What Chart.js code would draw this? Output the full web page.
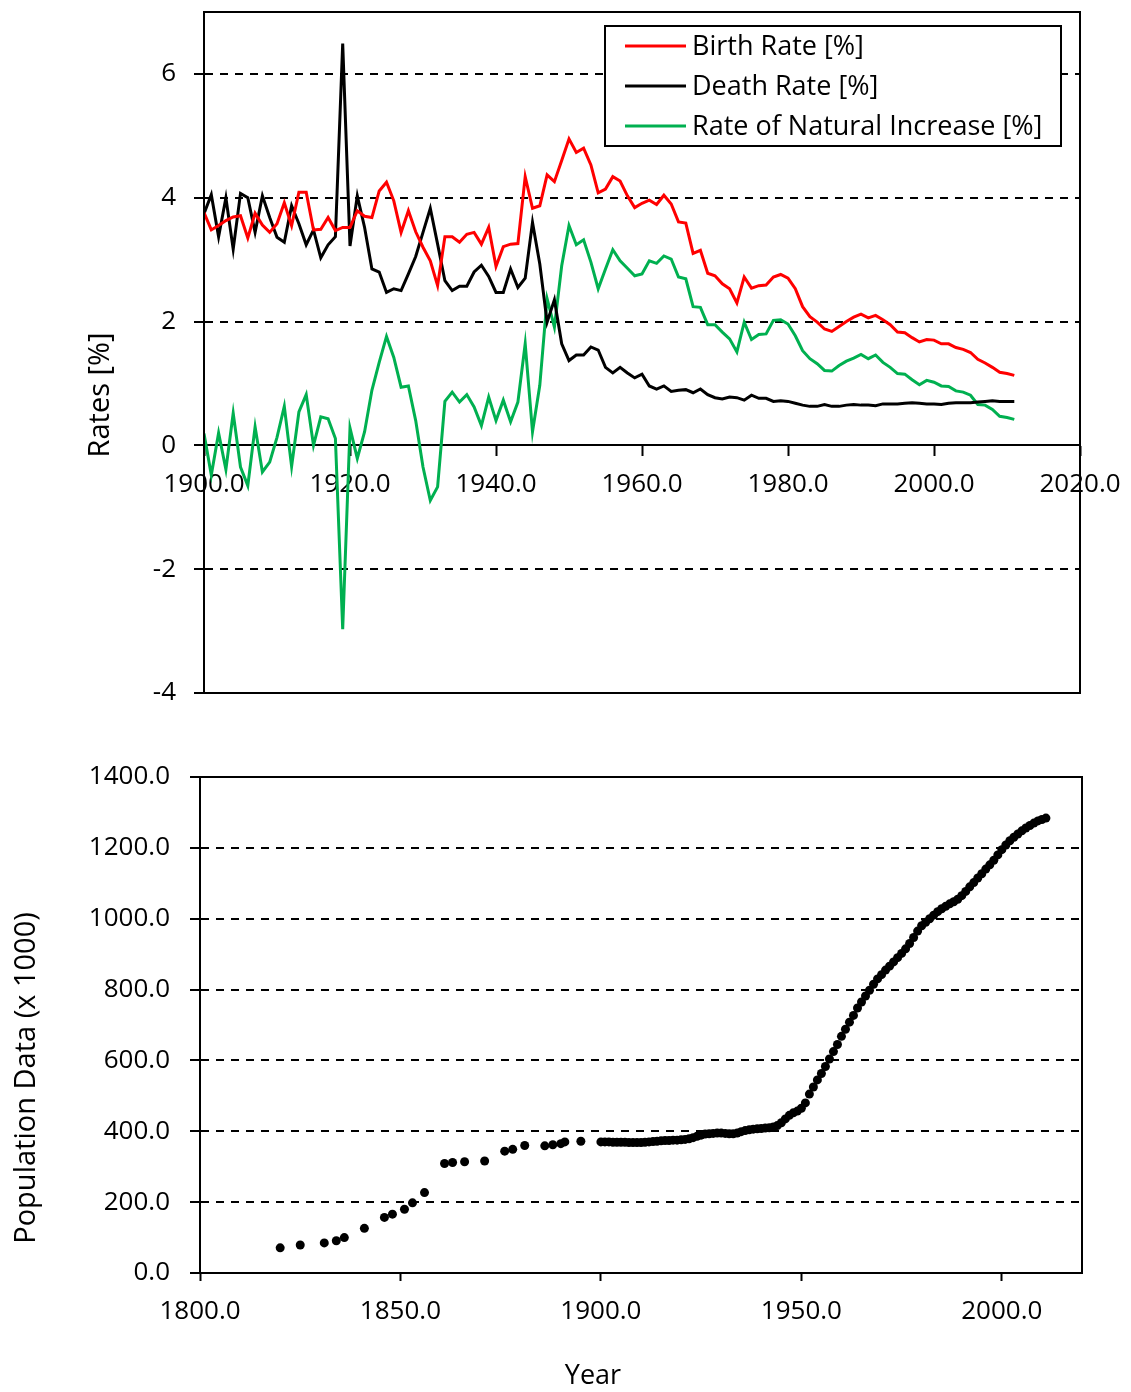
<!DOCTYPE html>
<html><head><meta charset="utf-8">
<script src="https://cdn.jsdelivr.net/npm/chart.js@4.4.1/dist/chart.umd.min.js"></script>
<style>
html,body{margin:0;padding:0;background:#fff;}
#wrap{position:relative;width:1131px;height:1392px;background:#fff;}
#c1{position:absolute;left:0;top:0;}
#c2{position:absolute;left:0;top:740px;}
</style></head><body>
<div id="wrap"><canvas id="c1" width="1131" height="720"></canvas><canvas id="c2" width="1131" height="652"></canvas></div>
<script>
// ---- data ----
const years = [1900,1901,1902,1903,1904,1905,1906,1907,1908,1909,1910,1911,1912,1913,1914,1915,1916,1917,1918,1919,
1920,1921,1922,1923,1924,1925,1926,1927,1928,1929,1930,1931,1932,1933,1934,1935,1936,1937,1938,1939,
1940,1941,1942,1943,1944,1945,1946,1947,1948,1949,1950,1951,1952,1953,1954,1955,1956,1957,1958,1959,
1960,1961,1962,1963,1964,1965,1966,1967,1968,1969,1970,1971,1972,1973,1974,1975,1976,1977,1978,1979,
1980,1981,1982,1983,1984,1985,1986,1987,1988,1989,1990,1991,1992,1993,1994,1995,1996,1997,1998,1999,
2000,2001,2002,2003,2004,2005,2006,2007,2008,2009,2010,2011];

const birthRate = [3.76,3.48,3.55,3.63,3.69,3.71,3.35,3.75,3.56,3.44,3.58,3.92,3.55,4.09,4.09,3.48,3.49,3.68,3.47,3.52,
3.52,3.79,3.70,3.68,4.11,4.25,3.95,3.44,3.79,3.45,3.20,2.98,2.58,3.37,3.37,3.28,3.41,3.44,3.25,3.52,
2.89,3.21,3.25,3.26,4.34,3.83,3.87,4.37,4.26,4.60,4.95,4.73,4.80,4.53,4.08,4.14,4.34,4.27,4.03,3.84,
3.91,3.96,3.89,4.04,3.90,3.61,3.59,3.10,3.15,2.78,2.74,2.61,2.53,2.30,2.72,2.54,2.58,2.59,2.72,2.76,
2.70,2.53,2.24,2.08,1.99,1.88,1.84,1.92,2.00,2.07,2.12,2.06,2.10,2.03,1.95,1.83,1.82,1.74,1.67,1.71,
1.70,1.64,1.64,1.58,1.55,1.50,1.39,1.33,1.26,1.18,1.16,1.13];

const deathRate = [3.74,4.05,3.37,4.00,3.17,4.07,4.00,3.44,4.03,3.68,3.36,3.28,3.87,3.58,3.24,3.48,3.03,3.24,3.37,6.49,
3.22,4.03,3.52,2.85,2.80,2.47,2.53,2.50,2.77,3.05,3.44,3.83,3.25,2.66,2.50,2.57,2.57,2.80,2.91,2.73,
2.47,2.47,2.85,2.55,2.70,3.60,2.93,1.99,2.35,1.64,1.37,1.46,1.46,1.59,1.54,1.26,1.17,1.26,1.17,1.09,
1.15,0.96,0.91,0.96,0.87,0.89,0.90,0.85,0.91,0.82,0.77,0.75,0.78,0.77,0.73,0.81,0.76,0.76,0.71,0.72,
0.71,0.68,0.65,0.63,0.63,0.66,0.63,0.63,0.65,0.66,0.65,0.65,0.64,0.67,0.67,0.67,0.68,0.69,0.68,0.67,
0.67,0.66,0.68,0.69,0.69,0.69,0.70,0.71,0.72,0.71,0.71,0.71];

const naturalIncrease = [0.19,-0.48,0.20,-0.39,0.52,-0.35,-0.65,0.30,-0.43,-0.27,0.13,0.63,-0.34,0.54,0.82,0.00,0.46,0.43,0.11,-2.97,
0.28,-0.21,0.22,0.89,1.34,1.76,1.42,0.94,0.96,0.40,-0.35,-0.89,-0.67,0.71,0.86,0.70,0.82,0.62,0.32,0.78,
0.40,0.73,0.38,0.70,1.64,0.22,0.97,2.37,1.91,2.90,3.55,3.24,3.32,2.96,2.53,2.85,3.16,2.98,2.86,2.74,
2.77,2.98,2.94,3.06,3.01,2.72,2.69,2.24,2.23,1.95,1.95,1.83,1.72,1.51,1.99,1.71,1.79,1.80,2.02,2.03,
1.96,1.77,1.53,1.40,1.32,1.21,1.20,1.29,1.36,1.41,1.47,1.40,1.46,1.34,1.26,1.16,1.15,1.06,0.98,1.05,
1.02,0.96,0.95,0.88,0.86,0.81,0.66,0.65,0.58,0.47,0.45,0.42];

const popYearsEarly = [1820,1825,1831,1834,1836,1841,1846,1848,1851,1853,1856,1861,1863,1866,1871,1876,1878,1881,1886,1888,1890,1891,1895];
const popEarly = [71,79,85,91,100,126,157,166,180,198,227,309,312,314,316,344,349,360,359,362,365,370,372];

const popAnnual = [370,370,370,369,369,369,369,368,368,368,368,369,370,371,372,373,374,374,375,375,
376,377,379,382,386,389,392,393,394,395,395,394,393,393,395,399,402,404,406,407,
408,409,410,412,416,424,435,445,452,457,465,480,505,525,545,563,583,604,625,645,
668,688,708,727,748,765,782,798,815,830,842,855,866,878,890,902,915,930,947,965,
980,990,1000,1010,1020,1028,1035,1042,1048,1055,1065,1077,1090,1102,1115,1127,1140,1152,1165,1180,
1195,1208,1220,1230,1239,1248,1256,1263,1270,1276,1280,1284];

const xTicksTop = [1900,1920,1940,1960,1980,2000,2020];
const yTicksTop = [-4,-2,0,2,4,6];
const xTicksBottom = [1800,1850,1900,1950,2000];
const yTicksBottom = [0,200,400,600,800,1000,1200,1400];

// ---- styling ----
const FONT = "'Open Sans', sans-serif";
Chart.defaults.font.family = FONT;
Chart.defaults.color = '#000';

const boxPlugin = {
  id: 'plotBox',
  afterDraw(chart) {
    const {ctx, chartArea: a} = chart;
    ctx.save();
    ctx.strokeStyle = '#000';
    ctx.lineWidth = 2;
    ctx.strokeRect(a.left, a.top, a.right - a.left, a.bottom - a.top);
    ctx.restore();
  }
};

// axis titles, placed as in the reference (not centred on the plot area)
const axisTitlePlugin = {
  id: 'axisTitles',
  afterDraw(chart, args, opts) {
    const ctx = chart.ctx;
    ctx.save();
    ctx.fillStyle = '#000';
    ctx.textAlign = 'center';
    ctx.textBaseline = 'middle';
    (opts.items || []).forEach(it => {
      ctx.save();
      ctx.font = it.size + 'px ' + FONT;
      ctx.translate(it.x, it.y);
      if (it.rotate) ctx.rotate(-Math.PI / 2);
      ctx.fillText(it.text, 0, 0);
      ctx.restore();
    });
    ctx.restore();
  }
};

const legendPlugin = {
  id: 'boxLegend',
  afterDatasetsDraw(chart) {
    const {ctx, chartArea: a} = chart;
    const w = 456, h = 120;
    const x = a.right - 19 - w, y = a.top + 14;
    ctx.save();
    ctx.fillStyle = '#fff';
    ctx.fillRect(x, y, w, h);
    ctx.strokeStyle = '#000';
    ctx.lineWidth = 2;
    ctx.strokeRect(x, y, w, h);
    ctx.font = "27px " + FONT;
    ctx.textBaseline = 'middle';
    ctx.textAlign = 'left';
    chart.data.datasets.forEach((ds, i) => {
      const ly = y + 20 + i * 40;
      ctx.strokeStyle = ds.borderColor;
      ctx.lineWidth = 3;
      ctx.beginPath();
      ctx.moveTo(x + 20, ly);
      ctx.lineTo(x + 81, ly);
      ctx.stroke();
      ctx.fillStyle = '#000';
      ctx.fillText(ds.label, x + 87, ly + 1);
    });
    ctx.restore();
  }
};

function series(ys) { return years.map((x, i) => ({x: x, y: ys[i]})); }

new Chart(document.getElementById('c1'), {
  type: 'line',
  data: {
    datasets: [
      {label: 'Birth Rate [%]', data: series(birthRate), borderColor: '#FF0000', borderWidth: 3, pointRadius: 0, fill: false, tension: 0},
      {label: 'Death Rate [%]', data: series(deathRate), borderColor: '#000000', borderWidth: 3, pointRadius: 0, fill: false, tension: 0},
      {label: 'Rate of Natural Increase [%]', data: series(naturalIncrease), borderColor: '#00B050', borderWidth: 3, pointRadius: 0, fill: false, tension: 0}
    ]
  },
  options: {
    responsive: false, animation: false,
    layout: {padding: {left: 0, right: 51, top: 12, bottom: 27}},
    plugins: {
      legend: {display: false}, tooltip: {enabled: false},
      axisTitles: {items: [{text: 'Rates [%]', x: 101, y: 395, size: 29, rotate: true}]}
    },
    scales: {
      x: {
        type: 'linear', position: {y: 0}, min: 1900, max: 2020,
        afterBuildTicks: s => { s.ticks = xTicksTop.map(v => ({value: v})); },
        ticks: {callback: v => Number(v).toFixed(1), font: {size: 26}, padding: 14, maxRotation: 0, autoSkip: false},
        grid: {drawOnChartArea: false, drawTicks: true, tickLength: 10, color: '#000', tickWidth: 2, tickBorderDash: []},
        border: {display: true, color: '#000', width: 2},
        afterFit: s => { s.paddingLeft = 0; s.paddingRight = 0; }
      },
      y: {
        type: 'linear', min: -4, max: 7,
        afterBuildTicks: s => { s.ticks = yTicksTop.map(v => ({value: v})); },
        ticks: {callback: v => String(v), font: {size: 26}, padding: 18},
        grid: {color: '#000', lineWidth: 2, tickLength: 10, tickWidth: 2, tickBorderDash: []},
        border: {display: true, color: '#000', width: 2, dash: [8, 7]},
        afterFit: s => { s.width = 204; s.paddingTop = 0; s.paddingBottom = 0; }
      }
    }
  },
  plugins: [legendPlugin, boxPlugin, axisTitlePlugin]
});

const popYears = popYearsEarly.concat(years);
const popValues = popEarly.concat(popAnnual);

new Chart(document.getElementById('c2'), {
  type: 'scatter',
  data: {
    datasets: [{label: 'Population Data (x 1000)', data: popYears.map((x, i) => ({x: x, y: popValues[i]})),
      backgroundColor: '#000', borderColor: '#000', pointRadius: 4.5, borderWidth: 0}]
  },
  options: {
    responsive: false, animation: false,
    layout: {padding: {left: 0, right: 49, top: 37, bottom: 0}},
    plugins: {
      legend: {display: false}, tooltip: {enabled: false},
      axisTitles: {items: [
        {text: 'Population Data (x 1000)', x: 27, y: 338, size: 29, rotate: true},
        {text: 'Year', x: 593, y: 636, size: 27, rotate: false}
      ]}
    },
    scales: {
      x: {
        type: 'linear', position: 'bottom', min: 1800, max: 2020,
        afterBuildTicks: s => { s.ticks = xTicksBottom.map(v => ({value: v})); },
        ticks: {callback: v => Number(v).toFixed(1), font: {size: 26}, padding: 15, maxRotation: 0, autoSkip: false},
        grid: {drawOnChartArea: false, drawTicks: true, tickLength: 8, color: '#000', tickWidth: 2, tickBorderDash: []},
        border: {display: true, color: '#000', width: 2},
        afterFit: s => { s.height = 119; s.paddingLeft = 0; s.paddingRight = 0; }
      },
      y: {
        type: 'linear', min: 0, max: 1400,
        afterBuildTicks: s => { s.ticks = yTicksBottom.map(v => ({value: v})); },
        ticks: {callback: v => Number(v).toFixed(1), font: {size: 26}, padding: 20},
        grid: {color: '#000', lineWidth: 2, tickLength: 10, tickWidth: 2, tickBorderDash: []},
        border: {display: true, color: '#000', width: 2, dash: [8, 7]},
        afterFit: s => { s.width = 200; s.paddingTop = 0; s.paddingBottom = 0; }
      }
    }
  },
  plugins: [boxPlugin, axisTitlePlugin]
});
</script>
</body></html>
